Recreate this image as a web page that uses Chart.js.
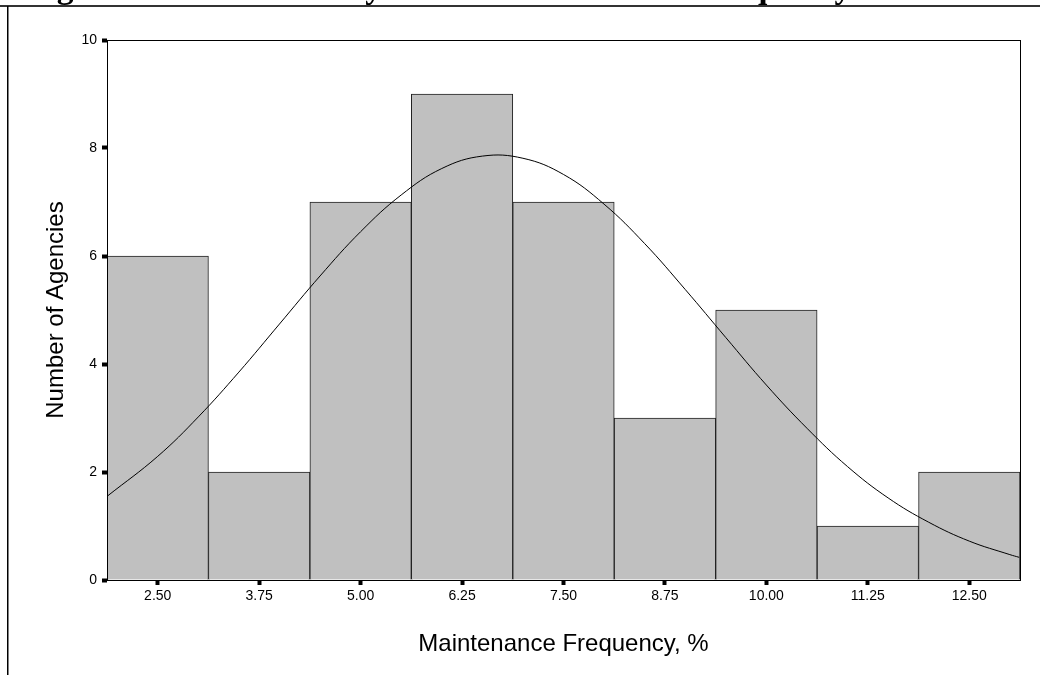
<!DOCTYPE html>
<html>
<head>
<meta charset="utf-8">
<script src="https://cdn.jsdelivr.net/npm/chart.js@4/dist/chart.umd.min.js"></script>
<style>
  html, body { margin: 0; padding: 0; background: #fff; }
  #wrap { width: 1040px; height: 675px; position: relative; }
</style>
</head>
<body>
<div id="wrap"><canvas id="histChart" width="1040" height="675"></canvas></div>
<script>
// Histogram data (bin centres and counts)
const binCentres = [2.5, 3.75, 5.0, 6.25, 7.5, 8.75, 10.0, 11.25, 12.5];
const binCounts = [6, 2, 7, 9, 7, 3, 5, 1, 2];

// Normal curve
const curveX = [1.885, 2.5, 3.0, 3.5, 4.0, 4.5, 5.0, 5.5, 6.0, 6.5, 7.0, 7.5, 8.0, 8.5, 9.0, 9.5, 10.0, 10.5, 11.0, 11.5, 12.0, 12.5, 13.0, 13.115];
const curveY = [1.56, 2.29, 3.02, 3.85, 4.74, 5.63, 6.45, 7.13, 7.62, 7.85, 7.81, 7.51, 6.96, 6.23, 5.38, 4.49, 3.61, 2.81, 2.10, 1.52, 1.07, 0.72, 0.47, 0.42];

// Axis ticks
const xTicks = [2.5, 3.75, 5.0, 6.25, 7.5, 8.75, 10.0, 11.25, 12.5];
const yTicks = [0, 2, 4, 6, 8, 10];

const titleText = 'Figure 3. Distribution by Annual Maintenance Frequency';

// frame, cut-off heading and plot box
const framePlugin = {
    id: 'frame',
    beforeDraw(chart) {
        const ctx = chart.ctx;
        ctx.save();
        ctx.fillStyle = '#000';
        ctx.font = "bold 33.5px 'Liberation Serif', 'Times New Roman', serif";
        ctx.textBaseline = 'alphabetic';
        ctx.fillText(titleText, 27, -2);
        ctx.fillStyle = '#333';
        ctx.fillRect(0, 5, 1040, 2);
        ctx.fillStyle = '#000';
        ctx.fillRect(7, 6, 1.5, 669);
        ctx.restore();
    },
    afterDraw(chart) {
        const a = chart.chartArea;
        const ctx = chart.ctx;
        ctx.save();
        ctx.strokeStyle = '#000';
        ctx.lineWidth = 1;
        ctx.strokeRect(a.left + 0.5, a.top + 0.5, a.right - a.left, a.bottom - a.top);
        ctx.restore();
    }
};

const ctx = document.getElementById('histChart').getContext('2d');
Chart.defaults.font.family = "'Liberation Sans', Arial, sans-serif";
Chart.defaults.color = '#000';

new Chart(ctx, {
    type: 'bar',
    data: {
        datasets: [
            {
                type: 'line',
                data: curveX.map((x, i) => ({ x: x, y: curveY[i] })),
                borderColor: '#000',
                borderWidth: 1,
                pointRadius: 0,
                tension: 0.4,
                fill: false,
                order: 0
            },
            {
                type: 'bar',
                data: binCentres.map((x, i) => ({ x: x, y: binCounts[i] })),
                backgroundColor: '#c0c0c0',
                borderColor: '#222',
                borderWidth: 1,
                barPercentage: 1,
                categoryPercentage: 1,
                order: 1
            }
        ]
    },
    options: {
        responsive: false,
        animation: false,
        layout: { padding: { left: 0, top: 40, right: 20, bottom: 0 } },
        plugins: {
            legend: { display: false },
            tooltip: { enabled: false }
        },
        scales: {
            x: {
                type: 'linear',
                min: 1.875,
                max: 13.125,
                offset: false,
                afterBuildTicks: (scale) => {
                    scale.ticks = xTicks.map(v => ({ value: v }));
                },
                afterFit: (scale) => { scale.height = 95; },
                ticks: {
                    autoSkip: false,
                    maxRotation: 0,
                    padding: 3,
                    font: { size: 14 },
                    callback: (v) => Number(v).toFixed(2)
                },
                grid: {
                    offset: false,
                    drawOnChartArea: false,
                    drawTicks: true,
                    tickLength: 5,
                    tickWidth: 4,
                    tickColor: '#000'
                },
                border: { display: true, color: '#000', width: 1 },
                title: {
                    display: true,
                    text: 'Maintenance Frequency, %',
                    font: { size: 24 },
                    padding: { top: 0, bottom: 16 }
                }
            },
            y: {
                min: 0,
                max: 10,
                afterBuildTicks: (scale) => {
                    scale.ticks = yTicks.map(v => ({ value: v }));
                },
                afterFit: (scale) => { scale.width = 107; },
                ticks: {
                    padding: 5,
                    font: { size: 14 }
                },
                grid: {
                    drawOnChartArea: false,
                    drawTicks: true,
                    tickLength: 5,
                    tickWidth: 4,
                    tickColor: '#000'
                },
                border: { display: true, color: '#000', width: 1 },
                title: {
                    display: true,
                    text: 'Number of Agencies',
                    font: { size: 24 },
                    padding: { top: 42, bottom: 0 }
                }
            }
        }
    },
    plugins: [framePlugin]
});
</script>
</body>
</html>
